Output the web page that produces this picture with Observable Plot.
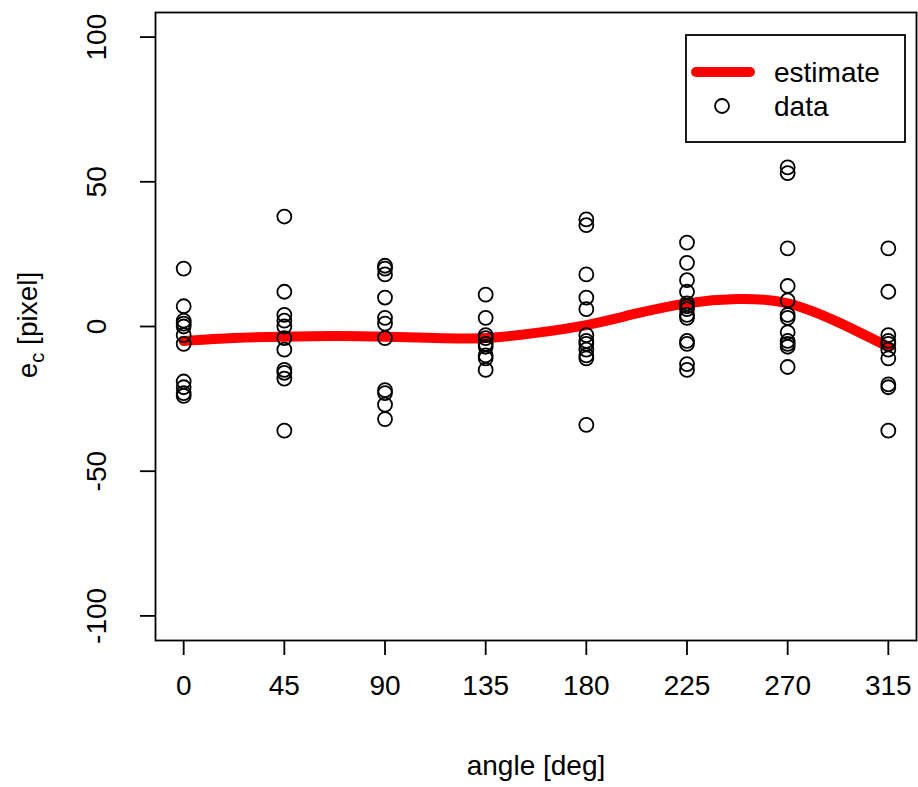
<!DOCTYPE html>
<html><head><meta charset="utf-8">
<script src="https://cdn.jsdelivr.net/npm/d3@7"></script>
<script src="https://cdn.jsdelivr.net/npm/@observablehq/plot@0.6"></script>
<style>
html,body{margin:0;padding:0;background:#fff;}
#chart{position:relative;width:918px;height:787px;}
svg{font-family:"Liberation Sans",Arial,sans-serif;}
</style>
</head><body><div id="chart"></div>
<script>
const xTicks = [0, 45, 90, 135, 180, 225, 270, 315];
const yTicks = [-100, -50, 0, 50, 100];

const pts0   = [20, 7, 2, 1, 0, -3, -6, -19, -21, -23, -24];
const pts45  = [38, 12, 4, 2, 0, -4, -8, -15, -16, -18, -36];
const pts90  = [21, 20, 18, 10, 3, 1, -4, -22, -23, -27, -32];
const pts135 = [11, 3, -3, -4, -6, -7, -10, -11, -15];
const pts180 = [37, 35, 18, 10, 6, -3, -5, -6, -8, -10, -11, -34];
const pts225 = [29, 22, 16, 12, 8, 7, 6, 4, 3, -5, -6, -13, -15];
const pts270 = [55, 53, 27, 14, 9, 4, 3, -2, -5, -6, -7, -14];
const pts315 = [27, 12, -3, -5, -6, -8, -11, -20, -21, -36];

const estAngle = [0, 22.5, 45, 67.5, 90, 112.5, 135, 157.5, 180, 202.5, 225, 247.5, 270, 292.5, 315];
const estValue = [-5, -4, -3.5, -3.3, -3.5, -4, -4, -2.2, 0.5, 4.5, 8, 9.5, 8, 1.5, -7];

const columns = [pts0, pts45, pts90, pts135, pts180, pts225, pts270, pts315];
const data = columns.flatMap((vals, i) => vals.map(v => ({angle: xTicks[i], e: v})));
const est = estAngle.map((a, i) => ({angle: a, e: estValue[i]}));

const FONT = "Liberation Sans, Arial, sans-serif";
const FS = 28;

const plot = Plot.plot({
  width: 918, height: 787,
  marginLeft: 155, marginRight: 2, marginTop: 12, marginBottom: 147,
  style: {fontFamily: FONT, fontSize: FS + "px", color: "black", background: "white"},
  x: {domain: [-12.6, 327.6]},
  y: {domain: [-108.5, 108.5]},
  marks: [
    Plot.line(est, {x: "angle", y: "e", stroke: "#ff0000", strokeWidth: 10, curve: "natural"}),
    Plot.dot(data, {x: "angle", y: "e", r: 7, stroke: "black", strokeWidth: 1.8, fill: "none"}),
    Plot.frame({stroke: "black", strokeWidth: 1.8}),
    Plot.axisX({ticks: xTicks, tickSize: 15, tickPadding: 20, fontSize: FS, strokeWidth: 1.8, label: null}),
    Plot.axisY({ticks: yTicks, tickSize: 15, tickFormat: () => "", strokeWidth: 1.8, label: null}),
    Plot.text(yTicks, {y: d => d, text: d => String(d), frameAnchor: "left", dx: -58, rotate: -90, textAnchor: "middle", fontSize: FS, fill: "black"}),
    Plot.text(["angle [deg]"], {text: d => d, frameAnchor: "bottom", dy: 134, fontSize: FS, fill: "black"})
  ]
});
document.getElementById("chart").appendChild(plot);

const svg = d3.select(plot);
// y-axis title with subscript
const yl = svg.append("text")
  .attr("transform", "translate(37,325) rotate(-90)")
  .attr("text-anchor", "middle")
  .attr("font-size", FS).attr("fill", "black");
yl.append("tspan").text("e");
yl.append("tspan").attr("font-size", 20).attr("dy", 7).text("c");
yl.append("tspan").attr("dy", -7).text(" [pixel]");

// legend
const lg = svg.append("g").attr("text-anchor", "start");
lg.append("rect").attr("x", 686).attr("y", 35).attr("width", 219).attr("height", 107)
  .attr("fill", "white").attr("stroke", "black").attr("stroke-width", 1.8);
lg.append("line").attr("x1", 696).attr("x2", 750).attr("y1", 72).attr("y2", 72)
  .attr("stroke", "#ff0000").attr("stroke-width", 10).attr("stroke-linecap", "round");
lg.append("circle").attr("cx", 722).attr("cy", 106).attr("r", 7)
  .attr("fill", "none").attr("stroke", "black").attr("stroke-width", 1.8);
lg.append("text").attr("x", 774).attr("y", 72).attr("dy", "0.35em").attr("font-size", FS).attr("fill", "black").text("estimate");
lg.append("text").attr("x", 774).attr("y", 106).attr("dy", "0.35em").attr("font-size", FS).attr("fill", "black").text("data");
</script>
</body></html>
